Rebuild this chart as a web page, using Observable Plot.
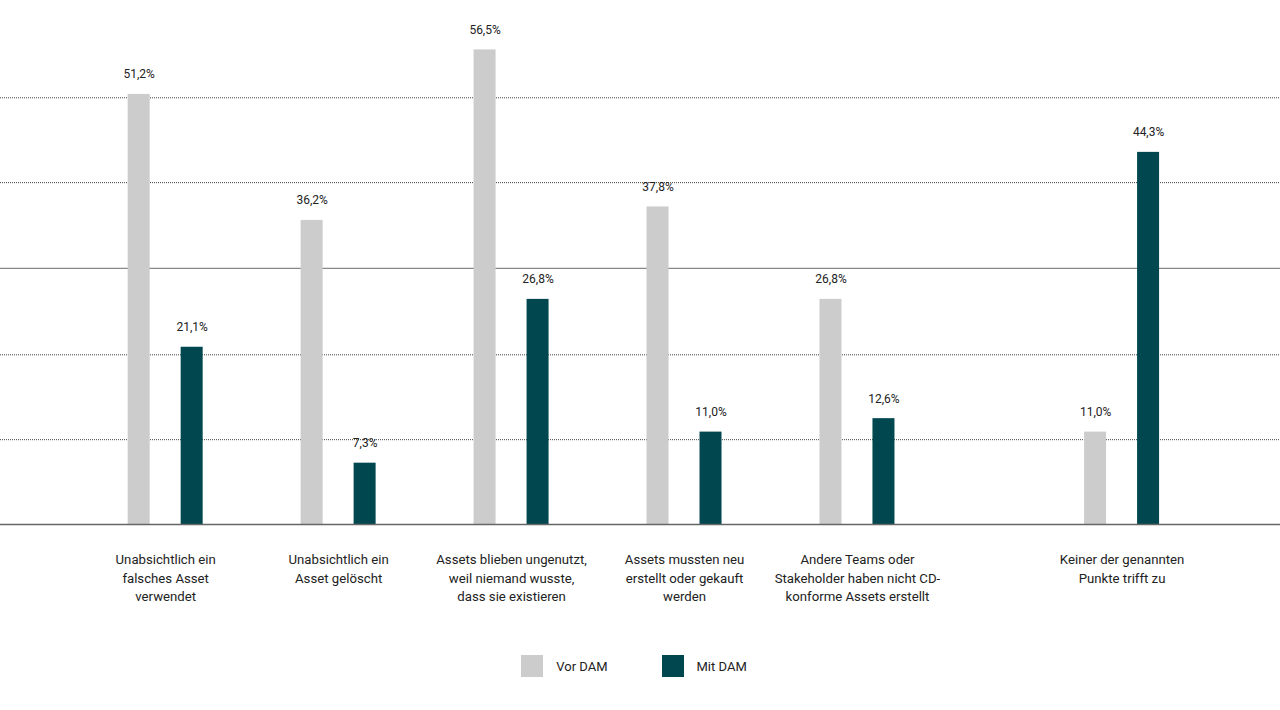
<!DOCTYPE html>
<html>
<head>
<meta charset="utf-8">
<script src="https://cdn.jsdelivr.net/npm/d3@7"></script>
<script src="https://cdn.jsdelivr.net/npm/@observablehq/plot@0.6"></script>
<style>
  html, body { margin: 0; padding: 0; background: #fff; }
  body { width: 1280px; height: 710px; overflow: hidden; font-family: Roboto, "Noto Sans", sans-serif; }
  #legend { display: flex; justify-content: center; align-items: center; margin-top: 10px; padding-right: 12px; font-size: 13px; color: #222; }
  .item { display: flex; align-items: center; margin: 0 27px; }
  .sw { width: 22px; height: 22px; margin-right: 13px; }
</style>
</head>
<body>
<div id="chart"></div>
<div id="legend"></div>
<script>
const categories = [
  "Unabsichtlich ein\nfalsches Asset\nverwendet",
  "Unabsichtlich ein\nAsset gelöscht",
  "Assets blieben ungenutzt,\nweil niemand wusste,\ndass sie existieren",
  "Assets mussten neu\nerstellt oder gekauft\nwerden",
  "Andere Teams oder\nStakeholder haben nicht CD-\nkonforme Assets erstellt",
  "Keiner der genannten\nPunkte trifft zu"
];
const series = ["Vor DAM", "Mit DAM"];
const vorDAM = [51.2, 36.2, 56.5, 37.8, 26.8, 11.0];
const mitDAM = [21.1, 7.3, 26.8, 11.0, 12.6, 44.3];
const dottedGrid = [10.1, 20.2, 40.7, 50.8];
const solidGrid = [30.5];
const colors = ["#cccccc", "#00474f"];

// layout: slot index per category (last group set apart)
const slot = i => (i < 5 ? i : 5.53);
const barOffsetInner = 0.0896, barOffsetOuter = 0.2168;

const rows = [];
categories.forEach((c, i) => {
  rows.push({cat: c, series: series[0], value: vorDAM[i], x1: slot(i) - barOffsetOuter, x2: slot(i) - barOffsetInner});
  rows.push({cat: c, series: series[1], value: mitDAM[i], x1: slot(i) + barOffsetInner, x2: slot(i) + barOffsetOuter});
});
const fmt = v => v.toFixed(1).replace(".", ",") + "%";

const chart = Plot.plot({
  width: 1280,
  height: 645,
  marginTop: 20,
  marginBottom: 121,
  marginLeft: 0,
  marginRight: 0,
  style: {fontFamily: "Roboto, 'Noto Sans', sans-serif", background: "#fff", color: "#222"},
  x: {type: "linear", domain: [-0.955, 6.446], axis: null},
  y: {domain: [0, 60], axis: null},
  color: {domain: series, range: colors},
  marks: [
    Plot.ruleY(dottedGrid, {stroke: "#444", strokeWidth: 1, strokeDasharray: "1,1"}),
    Plot.ruleY(solidGrid, {stroke: "#888", strokeWidth: 1.3}),
    Plot.rectY(rows, {x1: "x1", x2: "x2", y: "value", fill: "series"}),
    Plot.ruleY([0], {stroke: "#666", strokeWidth: 1.5}),
    Plot.text(rows, {x: d => (d.x1 + d.x2) / 2, y: "value", text: d => fmt(d.value), dy: -20, fontSize: 12, fill: "#222"}),
    Plot.text(categories, {x: (d, i) => slot(i), y: () => 0, text: d => d, dy: 27, lineAnchor: "top", lineHeight: 1.38, fontSize: 13.2, fill: "#222", textAnchor: "middle"})
  ]
});
document.getElementById("chart").appendChild(chart);

const legend = document.getElementById("legend");
series.forEach((s, i) => {
  const item = document.createElement("div");
  item.className = "item";
  item.innerHTML = `<div class="sw" style="background:${colors[i]}"></div><span>${s}</span>`;
  legend.appendChild(item);
});
</script>
</body>
</html>
